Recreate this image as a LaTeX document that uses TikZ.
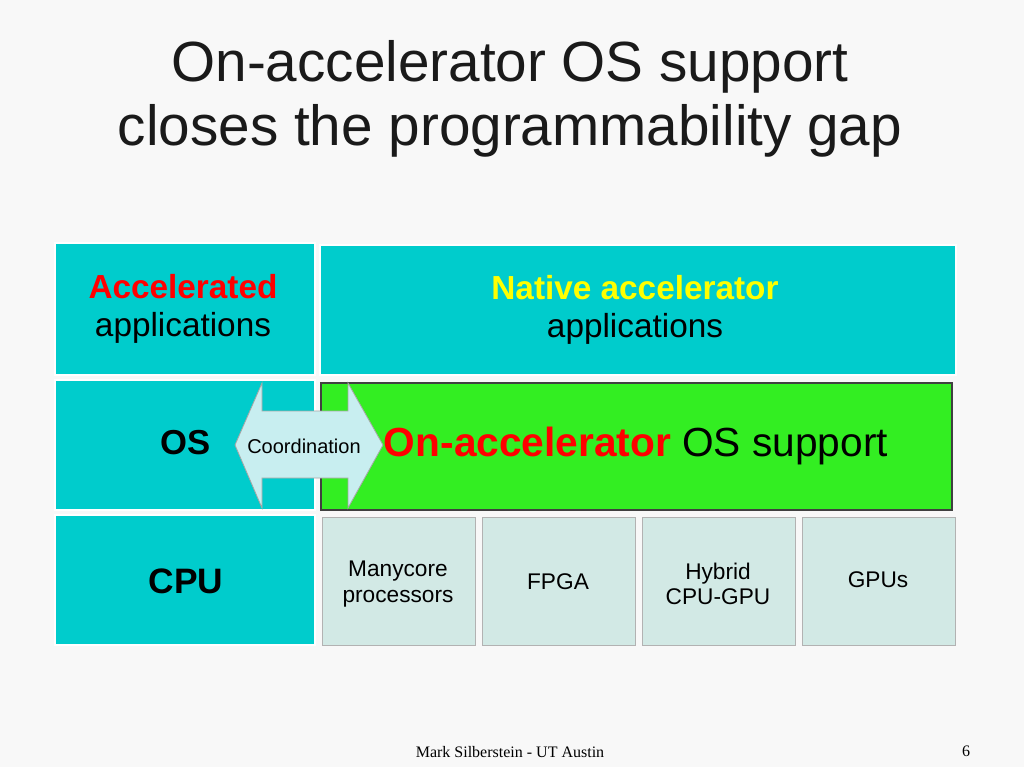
\documentclass[tikz,border=0pt]{standalone}
\usepackage{fontspec}
\setmainfont{Liberation Sans}
\newfontfamily\seriffont{Liberation Serif}
\definecolor{bg}{HTML}{F8F8F8}
\definecolor{cyanbox}{HTML}{00CCCC}
\definecolor{greenbox}{HTML}{33EE22}
\definecolor{hwbox}{HTML}{D2E9E5}
\definecolor{arrowfill}{HTML}{C8EEF0}
\definecolor{ttl}{HTML}{1A1A1A}
\definecolor{yel}{HTML}{FFFF00}
\tikzset{
 cbox/.style={fill=cyanbox,draw=white,line width=1pt},
 hbox/.style={fill=hwbox,draw=gray!60,line width=0.6pt},
 lbl/.style={font=\fontsize{25}{29}\selectfont,align=center},
 hlbl/.style={font=\fontsize{17}{19}\selectfont,align=center},
}
\begin{document}
\begin{tikzpicture}[x=0.75pt,y=-0.75pt]
\fill[bg] (0,0) rectangle (1024,767);
\useasboundingbox (0,0) rectangle (1024,767);
\node[ttl,font=\fontsize{42.5}{47.5}\selectfont,align=center] (title) at (510,99) {On-accelerator OS support\\closes the programmability gap};
\draw[cbox] (55,243) rectangle (315,375);
\draw[cbox] (320,245) rectangle (956,375);
\draw[cbox] (55,380) rectangle (315,510);
\draw[cbox] (55,515) rectangle (315,645);
\draw[fill=greenbox,draw=black!75,line width=2pt] (321,383) rectangle (952,510);
\draw[hbox] (322,517) rectangle (475,645);
\draw[hbox] (482,517) rectangle (635,645);
\draw[hbox] (642,517) rectangle (795,645);
\draw[hbox] (802,517) rectangle (955,645);
\draw[fill=arrowfill,draw=gray!70,line width=0.6pt] (235,445) -- (262,383) -- (262,411) -- (348,411) -- (348,383) -- (383,445) -- (348,508) -- (348,478) -- (262,478) -- (262,508) -- cycle;
\node[lbl] (acc) at (183,309) {\textcolor{red}{\textbf{Accelerated}}\\applications};
\node[lbl] (nat) at (635,310) {\textcolor{yel}{\textbf{Native accelerator}}\\applications};
\node[lbl,font=\bfseries\fontsize{26}{28}\selectfont] (os) at (186,443) {OS};
\node[font=\fontsize{15}{17}\selectfont] (coord) at (304,446) {Coordination};
\node[font=\fontsize{30.5}{34}\selectfont] (onacc) at (636,446) {\textcolor{red}{\textbf{On-accelerator}} OS support};
\node[lbl,font=\bfseries\fontsize{26.5}{28}\selectfont] (cpu) at (186,581) {CPU};
\node[hlbl] (many) at (398,584) {Manycore\\processors};
\node[hlbl] (fpga) at (558,582) {FPGA};
\node[hlbl] (hyb) at (718,584) {Hybrid\\CPU-GPU};
\node[hlbl] (gpu) at (878,580) {GPUs};
\node[font=\seriffont\fontsize{12}{14}\selectfont] (foot) at (510,752) {Mark Silberstein - UT Austin};
\node[font=\seriffont\fontsize{12}{14}\selectfont] (pg) at (966,751) {6};
\end{tikzpicture}
\end{document}
